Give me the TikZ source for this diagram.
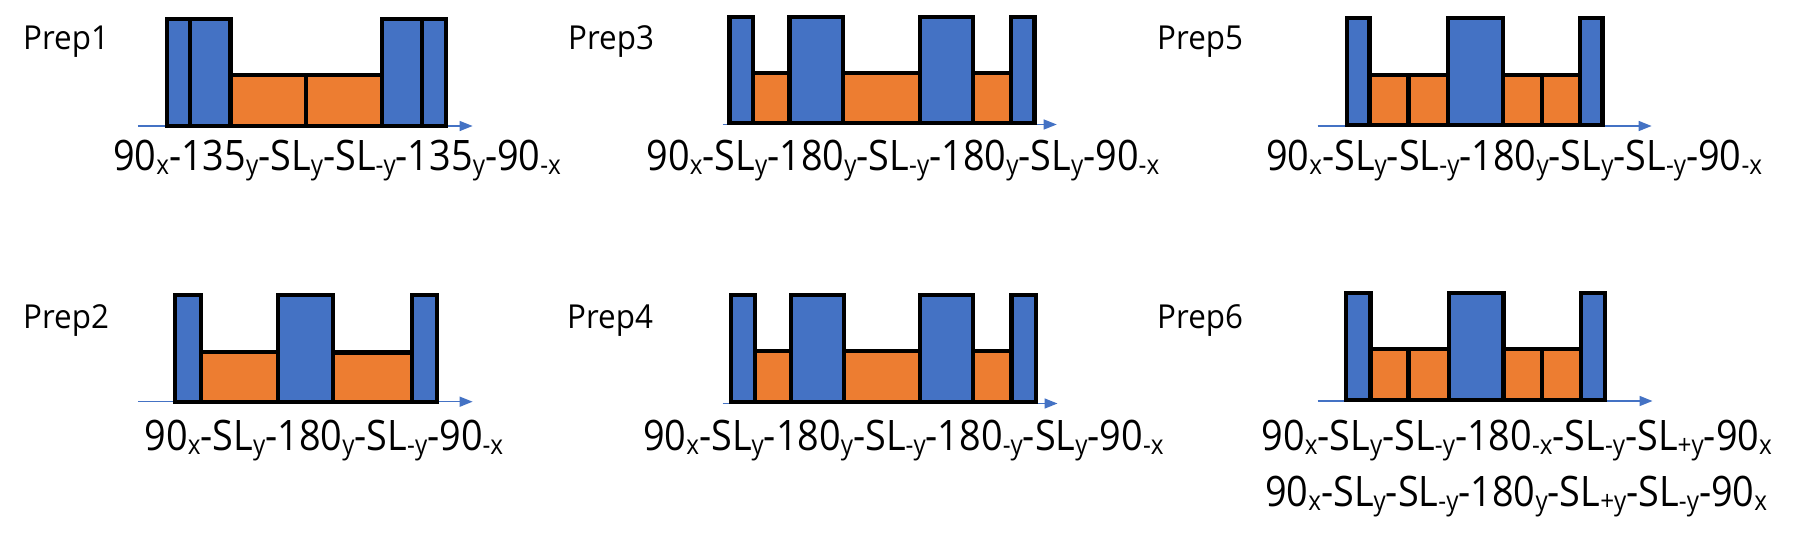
\documentclass[tikz,border=0pt]{standalone}
\usepackage{fontspec}
\setmainfont{Open Sans}
\newfontfamily\lblfont[FakeStretch=0.9]{Open Sans}
\newfontfamily\prepfont[FakeStretch=0.95]{Open Sans}
\usetikzlibrary{arrows.meta}
\definecolor{oblue}{HTML}{4472C4}
\definecolor{oorange}{HTML}{ED7D31}
\newcommand\lsub[1]{\raisebox{-4.5pt}{\fontsize{27}{27}\selectfont #1}}
\begin{document}
\begin{tikzpicture}[x=1pt,y=-1pt,
  bluebox/.style={fill=oblue,draw=black,line width=4.3pt},
  orangebox/.style={fill=oorange,draw=black,line width=4.3pt},
  axisarrow/.style={draw=oblue,line width=1.5pt,-{Triangle[length=13pt,width=10pt]}},
  preplabel/.style={anchor=base west,inner sep=0pt,font=\prepfont\fontsize{33}{40}\selectfont},
  seqlabel/.style={anchor=base west,inner sep=0pt,font=\lblfont\fontsize{42}{50}\selectfont}]
\useasboundingbox (0,0) rectangle (1803,538);
% ---------- Panel 1 ----------
\coordinate (a1s) at (137.8,126); \coordinate (a1e) at (472.6,126);
\draw[axisarrow] (a1s) -- (a1e);
\filldraw[bluebox] (166.9,19.3) rectangle (189.8,126.3);
\filldraw[bluebox] (189.8,19.3) rectangle (230.4,126.3);
\filldraw[orangebox] (230.4,75.3) rectangle (306.2,126.3);
\filldraw[orangebox] (306.2,75.3) rectangle (381.9,126.3);
\filldraw[bluebox] (381.9,19.3) rectangle (422.1,126.3);
\filldraw[bluebox] (422.1,19.3) rectangle (446.2,126.3);
\node[preplabel] (p1) at (23,49) {Prep1};
\node[seqlabel] (s1) at (113,170) {90\lsub{x}-135\lsub{y}-SL\lsub{y}-SL\lsub{-y}-135\lsub{y}-90\lsub{-x}};
% ---------- Panel 3 ----------
\coordinate (a3s) at (722.6,124.5); \coordinate (a3e) at (1056.7,124.5);
\draw[axisarrow] (a3s) -- (a3e);
\filldraw[bluebox] (729.5,16.7) rectangle (753.3,122.7);
\filldraw[orangebox] (753.3,72.7) rectangle (789.6,122.7);
\filldraw[bluebox] (789.6,16.7) rectangle (843.2,122.7);
\filldraw[orangebox] (843.2,72.7) rectangle (919.7,122.7);
\filldraw[bluebox] (919.7,16.7) rectangle (973.3,122.7);
\filldraw[orangebox] (973.3,72.7) rectangle (1010.8,122.7);
\filldraw[bluebox] (1010.8,16.7) rectangle (1034.5,122.7);
\node[preplabel] (p3) at (568,49) {Prep3};
\node[seqlabel] (s3) at (646.5,170) {90\lsub{x}-SL\lsub{y}-180\lsub{y}-SL\lsub{-y}-180\lsub{y}-SL\lsub{y}-90\lsub{-x}};
% ---------- Panel 5 ----------
\coordinate (a5s) at (1317.6,126); \coordinate (a5e) at (1651.6,126);
\draw[axisarrow] (a5s) -- (a5e);
\filldraw[bluebox] (1346.8,18.3) rectangle (1369.6,125);
\filldraw[orangebox] (1369.6,74.7) rectangle (1408.5,125);
\filldraw[orangebox] (1408.5,74.7) rectangle (1447.8,125);
\filldraw[bluebox] (1447.8,18.3) rectangle (1502.8,125);
\filldraw[orangebox] (1502.8,74.7) rectangle (1541.7,125);
\filldraw[orangebox] (1541.7,74.7) rectangle (1579.7,125);
\filldraw[bluebox] (1579.7,18.3) rectangle (1602.6,125);
\node[preplabel] (p5) at (1157,49) {Prep5};
\node[seqlabel] (s5) at (1266,170) {90\lsub{x}-SL\lsub{y}-SL\lsub{-y}-180\lsub{y}-SL\lsub{y}-SL\lsub{-y}-90\lsub{-x}};
% ---------- Panel 2 ----------
\coordinate (a2s) at (137.8,401.7); \coordinate (a2e) at (472.6,401.7);
\draw[axisarrow] (a2s) -- (a2e);
\filldraw[bluebox] (175.3,295.3) rectangle (200.9,402);
\filldraw[orangebox] (200.9,352) rectangle (278.2,402);
\filldraw[bluebox] (278.2,295.3) rectangle (333,402);
\filldraw[orangebox] (333,352.5) rectangle (412.2,402);
\filldraw[bluebox] (412.2,295.3) rectangle (437,402);
\node[preplabel] (p2) at (23,328) {Prep2};
\node[seqlabel] (s2) at (144.5,450) {90\lsub{x}-SL\lsub{y}-180\lsub{y}-SL\lsub{-y}-90\lsub{-x}};
% ---------- Panel 4 ----------
\coordinate (a4s) at (722.6,403.5); \coordinate (a4e) at (1057.5,403.5);
\draw[axisarrow] (a4s) -- (a4e);
\filldraw[bluebox] (730.7,295.3) rectangle (755.2,402);
\filldraw[orangebox] (755.2,351.3) rectangle (790.8,402);
\filldraw[bluebox] (790.8,295.3) rectangle (844.3,402);
\filldraw[orangebox] (844.3,351.3) rectangle (919.7,402);
\filldraw[bluebox] (919.7,295.3) rectangle (973.3,402);
\filldraw[orangebox] (973.3,351.3) rectangle (1011.6,402);
\filldraw[bluebox] (1011.6,295.3) rectangle (1036.1,402);
\node[preplabel] (p4) at (567,328) {Prep4};
\node[seqlabel] (s4) at (643,450) {90\lsub{x}-SL\lsub{y}-180\lsub{y}-SL\lsub{-y}-180\lsub{-y}-SL\lsub{y}-90\lsub{-x}};
% ---------- Panel 6 ----------
\coordinate (a6s) at (1317.6,401); \coordinate (a6e) at (1652.5,401);
\draw[axisarrow] (a6s) -- (a6e);
\filldraw[bluebox] (1346.3,293.3) rectangle (1370.4,400);
\filldraw[orangebox] (1370.4,349.3) rectangle (1408.5,400);
\filldraw[orangebox] (1408.5,349.3) rectangle (1448.7,400);
\filldraw[bluebox] (1448.7,293.3) rectangle (1503.6,400);
\filldraw[orangebox] (1503.6,349.3) rectangle (1541.7,400);
\filldraw[orangebox] (1541.7,349.3) rectangle (1581,400);
\filldraw[bluebox] (1581,293.3) rectangle (1604.7,400);
\node[preplabel] (p6) at (1157,328) {Prep6};
\node[seqlabel] (s6a) at (1261.5,450) {90\lsub{x}-SL\lsub{y}-SL\lsub{-y}-180\lsub{-x}-SL\lsub{-y}-SL\lsub{+y}-90\lsub{x}};
\node[seqlabel] (s6b) at (1265,506) {90\lsub{x}-SL\lsub{y}-SL\lsub{-y}-180\lsub{y}-SL\lsub{+y}-SL\lsub{-y}-90\lsub{x}};
\end{tikzpicture}
\end{document}
